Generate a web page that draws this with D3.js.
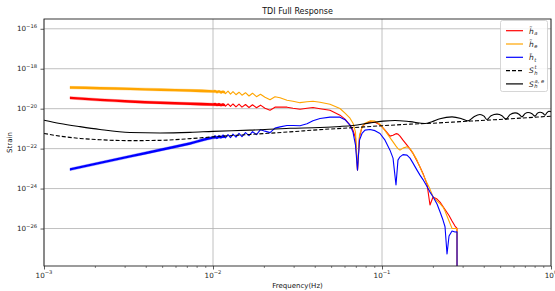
<!DOCTYPE html>
<html><head><meta charset="utf-8">
<script src="https://cdn.jsdelivr.net/npm/d3@7"></script>
<style>body{margin:0;background:#fff} text{font-family:"DejaVu Sans",sans-serif}</style>
</head><body><svg id="c" width="555" height="291"></svg>
<script>
// ---------- data ----------
// dense low-frequency oscillation band (envelope) of the three signals
const bandFreq = [1.425e-3, 2.144e-3, 3.228e-3, 4.858e-3, 7.311e-3, 1.0e-2, 1.178e-2];
const haBandHi = [3.98e-20, 3.16e-20, 2.63e-20, 2.29e-20, 2.04e-20, 1.86e-20, 1.72e-20];
const haBandLo = [3.02e-20, 2.40e-20, 2.00e-20, 1.74e-20, 1.55e-20, 1.41e-20, 1.36e-20];
const heBandHi = [1.318e-19, 1.216e-19, 1.122e-19, 1.023e-19, 9.33e-20, 8.41e-20, 7.50e-20];
const heBandLo = [1.00e-19, 9.23e-20, 8.51e-20, 7.76e-20, 7.08e-20, 6.38e-20, 5.96e-20];
const htBandHi = [1.047e-23, 2.21e-23, 4.68e-23, 9.89e-23, 2.09e-22, 4.07e-22, 4.47e-22];
const htBandLo = [7.94e-24, 1.68e-23, 3.55e-23, 7.50e-23, 1.585e-22, 3.09e-22, 3.55e-22];

// resolved part of the signals
const lineFreq = [1.000e-2, 1.028e-2, 1.056e-2, 1.085e-2, 1.115e-2, 1.146e-2, 1.186e-2, 1.227e-2, 1.269e-2, 1.313e-2,
  1.368e-2, 1.425e-2, 1.484e-2, 1.557e-2, 1.633e-2, 1.713e-2, 1.809e-2, 1.910e-2, 2.031e-2, 2.175e-2,
  2.327e-2, 2.492e-2, 2.741e-2, 2.974e-2, 3.272e-2, 3.599e-2, 3.905e-2, 4.297e-2, 4.924e-2, 5.642e-2,
  6.040e-2, 6.466e-2, 6.736e-2, 6.970e-2, 7.162e-2, 7.360e-2, 7.615e-2, 7.933e-2, 8.493e-2, 9.092e-2,
  9.731e-2, 1.042e-1, 1.115e-1, 1.162e-1, 1.210e-1, 1.243e-1, 1.278e-1, 1.331e-1, 1.406e-1, 1.465e-1,
  1.526e-1, 1.611e-1, 1.678e-1, 1.748e-1, 1.846e-1, 1.923e-1, 2.004e-1, 2.116e-1, 2.204e-1, 2.296e-1,
  2.360e-1, 2.425e-1, 2.492e-1, 2.596e-1, 2.704e-1, 2.779e-1, 2.780e-1];
const heLine = [7.08e-20, 8.41e-20, 6.10e-20, 8.13e-20, 5.89e-20, 7.85e-20, 5.62e-20, 7.50e-20, 5.31e-20, 7.08e-20,
  5.01e-20, 6.68e-20, 4.73e-20, 6.31e-20, 4.32e-20, 5.96e-20, 3.98e-20, 5.31e-20, 3.76e-20, 2.82e-20,
  3.98e-20, 3.55e-20, 2.66e-20, 2.37e-20, 2.00e-20, 2.24e-20, 2.37e-20, 2.11e-20, 1.68e-20, 1.02e-20,
  5.96e-21, 3.35e-21, 1.88e-21, 6.68e-22, 8.41e-24, 4.73e-22, 1.19e-21, 1.88e-21, 2.45e-21, 2.37e-21,
  1.68e-21, 7.94e-22, 3.55e-22, 2.19e-22, 1.33e-22, 1.00e-22, 8.41e-23, 1.06e-22, 1.23e-22, 1.00e-22,
  5.96e-23, 2.66e-23, 1.19e-23, 5.31e-24, 1.88e-24, 9.44e-25, 3.89e-25, 2.37e-25, 1.78e-25, 1.19e-25,
  7.50e-26, 4.22e-26, 2.37e-26, 1.02e-26, 1.00e-26, 1.00e-26, 1e-30];
const haLine = [1.62e-20, 1.88e-20, 1.41e-20, 1.84e-20, 1.36e-20, 1.80e-20, 1.33e-20, 1.76e-20, 1.29e-20, 1.72e-20,
  1.24e-20, 1.68e-20, 1.19e-20, 1.62e-20, 1.15e-20, 1.58e-20, 1.11e-20, 1.50e-20, 1.06e-20, 8.41e-21,
  1.19e-20, 1.19e-20, 1.19e-20, 1.06e-20, 9.44e-21, 1.06e-20, 1.15e-20, 1.00e-20, 8.41e-21, 4.73e-21,
  2.99e-21, 1.50e-21, 8.41e-22, 3.35e-22, 8.41e-24, 3.76e-22, 1.19e-21, 1.78e-21, 2.19e-21, 2.11e-21,
  1.58e-21, 8.41e-22, 4.22e-22, 4.73e-22, 5.62e-22, 5.31e-22, 4.22e-22, 2.66e-22, 1.50e-22, 9.44e-23,
  5.75e-23, 2.37e-23, 1.19e-23, 5.75e-24, 1.68e-24, 1.50e-25, 3.76e-25, 2.99e-25, 2.11e-25, 1.26e-25,
  8.91e-26, 6.31e-26, 4.47e-26, 2.37e-26, 1.33e-26, 1.02e-26, 1e-30];
const htLine = [3.55e-22, 4.47e-22, 3.16e-22, 4.57e-22, 3.35e-22, 4.84e-22, 3.43e-22, 5.01e-22, 3.55e-22, 5.31e-22,
  3.76e-22, 5.75e-22, 3.98e-22, 6.31e-22, 4.47e-22, 7.08e-22, 5.01e-22, 8.91e-22, 7.50e-22, 6.31e-22,
  1.06e-21, 1.23e-21, 1.45e-21, 1.45e-21, 1.41e-21, 1.78e-21, 2.51e-21, 3.24e-21, 3.76e-21, 3.76e-21,
  2.82e-21, 1.50e-21, 6.68e-22, 1.50e-22, 8.41e-24, 2.66e-22, 5.75e-22, 8.41e-22, 9.12e-22, 7.94e-22,
  5.75e-22, 2.66e-22, 8.41e-23, 3.35e-23, 1.50e-24, 2.66e-23, 3.89e-23, 5.01e-23, 4.73e-23, 3.35e-23,
  1.88e-23, 8.41e-24, 4.73e-24, 2.82e-24, 1.26e-24, 6.68e-25, 3.89e-25, 1.68e-25, 6.92e-26, 2.66e-26,
  1.23e-26, 5.31e-28, 4.22e-27, 7.50e-27, 6.68e-27, 6.92e-27, 1e-30];

// noise curves
const stFreq = [1e-3, 1.243e-3, 1.633e-3, 2.144e-3, 3.228e-3, 4.858e-3, 7.311e-3, 1e-2, 1.655e-2, 2.855e-2,
  4.297e-2, 6.466e-2, 1.014e-1, 1.465e-1, 2.004e-1, 2.894e-1, 4.181e-1, 6.556e-1, 1.0];
const stVals = [5.75e-22, 4.22e-22, 3.24e-22, 2.79e-22, 2.51e-22, 2.60e-22, 3.16e-22, 3.89e-22, 5.13e-22, 6.92e-22,
  8.91e-22, 1.10e-21, 1.41e-21, 1.68e-21, 1.88e-21, 2.24e-21, 2.66e-21, 3.35e-21, 4.22e-21];
const saeFreq = [1e-3, 1.243e-3, 1.633e-3, 2.144e-3, 3.228e-3, 4.858e-3, 7.311e-3, 1e-2, 1.655e-2, 2.855e-2,
  4.297e-2, 5.642e-2, 6.736e-2, 8.493e-2, 1.014e-1, 1.194e-1, 1.465e-1, 1.797e-1, 1.976e-1, 2.204e-1,
  2.596e-1, 2.934e-1, 3.228e-1, 3.503e-1, 3.800e-1, 4.013e-1, 4.181e-1, 4.416e-1, 4.792e-1, 5.129e-1,
  5.417e-1, 5.720e-1, 6.124e-1, 6.467e-1, 6.736e-1, 7.017e-1, 7.311e-1, 7.720e-1, 8.042e-1, 8.321e-1,
  8.609e-1, 8.969e-1, 9.217e-1, 9.470e-1, 9.731e-1, 1.0];
const saeVals = [2.66e-21, 1.82e-21, 1.26e-21, 9.12e-22, 6.46e-22, 6.10e-22, 6.53e-22, 7.33e-22, 8.41e-22, 1.04e-21,
  1.15e-21, 1.29e-21, 1.45e-21, 1.95e-21, 2.37e-21, 2.57e-21, 2.24e-21, 1.82e-21, 2.24e-21, 3.16e-21,
  3.89e-21, 3.24e-21, 2.45e-21, 3.98e-21, 5.13e-21, 4.22e-21, 2.88e-21, 4.47e-21, 5.31e-21, 4.47e-21,
  2.99e-21, 5.01e-21, 6.17e-21, 5.31e-21, 3.89e-21, 5.62e-21, 6.46e-21, 5.62e-21, 4.22e-21, 5.96e-21,
  6.68e-21, 5.96e-21, 4.73e-21, 6.31e-21, 7.50e-21, 7.08e-21];

// axes
const xTicks = [1e-3, 1e-2, 1e-1, 1];
const xTickExp = [-3, -2, -1, 0];
const yTicks = [1e-16, 1e-18, 1e-20, 1e-22, 1e-24, 1e-26];
const yTickExp = [-16, -18, -20, -22, -24, -26];
const title = "TDI Full Response";
const xLabel = "Frequency(Hz)";
const yLabel = "Strain";

// ---------- drawing ----------
const svg = d3.select('#c');
const L = 44, R = 551, T = 19, B = 266;
const x = d3.scaleLog().domain([1e-3, 1]).range([L, R]);
const y = d3.scaleLog().domain([1.33e-28, 3.09e-16]).range([B, T]);

svg.append('defs').append('clipPath').attr('id', 'clip')
  .append('rect').attr('x', L).attr('y', T).attr('width', R - L).attr('height', B - T);

// grid
const grid = svg.append('g');
grid.selectAll('.gx').data(xTicks).join('line')
  .attr('x1', d => x(d)).attr('x2', d => x(d)).attr('y1', T).attr('y2', B)
  .attr('stroke', '#b0b0b0').attr('stroke-width', 0.8);
grid.selectAll('.gy').data(yTicks).join('line')
  .attr('y1', d => y(d)).attr('y2', d => y(d)).attr('x1', L).attr('x2', R)
  .attr('stroke', '#b0b0b0').attr('stroke-width', 0.8);

// axes ticks
const minor = [];
[-3, -2, -1].forEach(e => { for (let k = 2; k <= 9; k++) minor.push(k * Math.pow(10, e)); });
svg.append('g').attr('transform', `translate(0,${B})`)
  .call(d3.axisBottom(x).tickValues(minor).tickSize(2).tickFormat(''))
  .call(g => { g.select('.domain').remove(); g.selectAll('line').attr('stroke', '#333').attr('stroke-width', 0.6); });
svg.append('g').attr('transform', `translate(0,${B})`)
  .call(d3.axisBottom(x).tickValues(xTicks).tickSize(3.5).tickFormat(''))
  .call(g => { g.select('.domain').remove(); g.selectAll('line').attr('stroke', '#333').attr('stroke-width', 0.8); });
svg.append('g').attr('transform', `translate(${L},0)`)
  .call(d3.axisLeft(y).tickValues(yTicks).tickSize(3.5).tickFormat(''))
  .call(g => { g.select('.domain').remove(); g.selectAll('line').attr('stroke', '#333').attr('stroke-width', 0.8); });

function powLabel(px, py, exp, anchor) {
  const t = svg.append('text').attr('x', px).attr('y', py).attr('text-anchor', anchor)
    .attr('font-size', 7.2).attr('fill', '#262626');
  t.append('tspan').text('10');
  t.append('tspan').attr('dy', -3.6).attr('font-size', 5.2).text(exp < 0 ? '\u2212' + (-exp) : String(exp));
}
xTicks.forEach((v, i) => powLabel(x(v), 277.5, xTickExp[i], 'middle'));
yTicks.forEach((v, i) => powLabel(37, y(v) + 2.6, yTickExp[i], 'end'));

// plot content
const plot = svg.append('g').attr('clip-path', 'url(#clip)');
const band = (hi, lo) => d3.range(bandFreq.length).map(i => ({ f: bandFreq[i], hi: hi[i], lo: lo[i] }));
const area = d3.area().x(d => x(d.f)).y0(d => y(d.lo)).y1(d => y(d.hi)).curve(d3.curveMonotoneX);
const ln = d3.line().x(d => x(d[0])).y(d => y(d[1]));
const lnSmooth = d3.line().x(d => x(d[0])).y(d => y(d[1])).curve(d3.curveMonotoneX);
const pairs = (fs, vs) => fs.map((f, i) => [f, vs[i]]);

const sig = [
  { hi: haBandHi, lo: haBandLo, line: haLine, color: '#ff0000' },
  { hi: heBandHi, lo: heBandLo, line: heLine, color: '#ffa500' },
  { hi: htBandHi, lo: htBandLo, line: htLine, color: '#0000ff' }
];
sig.forEach(s => {
  plot.append('path').attr('d', area(band(s.hi, s.lo))).attr('fill', s.color)
    .attr('stroke', s.color).attr('stroke-width', 0.3);
  plot.append('path').attr('d', ln(pairs(lineFreq, s.line))).attr('fill', 'none')
    .attr('stroke', s.color).attr('stroke-width', 1.1).attr('stroke-linejoin', 'round');
});
plot.append('path').attr('d', lnSmooth(pairs(stFreq, stVals))).attr('fill', 'none')
  .attr('stroke', '#000').attr('stroke-width', 1.1).attr('stroke-dasharray', '4,2');
plot.append('path').attr('d', lnSmooth(pairs(saeFreq, saeVals))).attr('fill', 'none')
  .attr('stroke', '#000').attr('stroke-width', 1.1);

// spines
svg.append('rect').attr('x', L).attr('y', T).attr('width', R - L).attr('height', B - T)
  .attr('fill', 'none').attr('stroke', '#222').attr('stroke-width', 0.9);

// title & labels
svg.append('text').attr('x', (L + R) / 2).attr('y', 14).attr('text-anchor', 'middle')
  .attr('font-size', 8).attr('fill', '#111').text(title);
svg.append('text').attr('x', (L + R) / 2).attr('y', 287.5).attr('text-anchor', 'middle')
  .attr('font-size', 7).attr('fill', '#111').text(xLabel);
svg.append('text').attr('transform', `translate(12,${(T + B) / 2}) rotate(-90)`).attr('text-anchor', 'middle')
  .attr('font-size', 7).attr('fill', '#111').text(yLabel);

// legend
const legendItems = [
  { main: 'h\u0303', sub: 'a', sup: '', color: '#ff0000', dash: null },
  { main: 'h\u0303', sub: 'e', sup: '', color: '#ffa500', dash: null },
  { main: 'h\u0303', sub: 't', sup: '', color: '#0000ff', dash: null },
  { main: 'S', sub: 'h', sup: 't', color: '#000', dash: '4,2' },
  { main: 'S', sub: 'h', sup: 'a, e', color: '#000', dash: null }
];
const lg = svg.append('g');
lg.append('rect').attr('x', 500.5).attr('y', 20.5).attr('width', 47).attr('height', 71).attr('rx', 2)
  .attr('fill', '#fff').attr('fill-opacity', 0.85).attr('stroke', '#ccc').attr('stroke-width', 0.8);
legendItems.forEach((d, i) => {
  const yy = 30.7 + i * 13.3;
  lg.append('line').attr('x1', 506).attr('x2', 523).attr('y1', yy).attr('y2', yy)
    .attr('stroke', d.color).attr('stroke-width', 1.2).attr('stroke-dasharray', d.dash);
  lg.append('text').attr('x', 529).attr('y', yy + 2.8).attr('font-size', 7.5).attr('font-style', 'italic')
    .attr('fill', '#222').text(d.main);
  lg.append('text').attr('x', 534.3).attr('y', yy + 4.3).attr('font-size', 5.2).attr('font-style', 'italic')
    .attr('fill', '#222').text(d.sub);
  if (d.sup) lg.append('text').attr('x', 534.6).attr('y', yy - 1.2).attr('font-size', 5.2).attr('font-style', 'italic')
    .attr('fill', '#222').text(d.sup);
});
</script></body></html>
